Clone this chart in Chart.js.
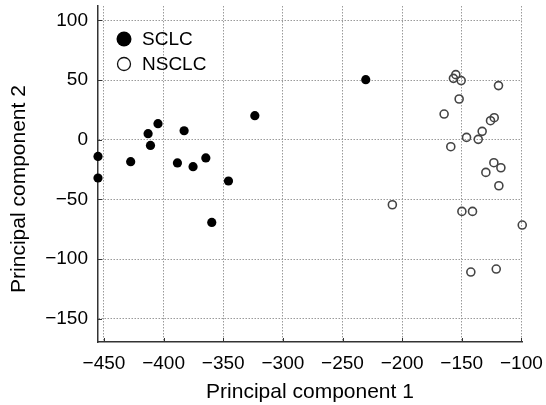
<!DOCTYPE html>
<html>
<head>
<meta charset="utf-8">
<script src="https://cdn.jsdelivr.net/npm/chart.js@4"></script>
<style>
  body { margin: 0; background: #fff; }
</style>
</head>
<body>
<canvas id="Chart" width="546" height="405"></canvas>
<script>
// values
const sclcX = [-455, -455, -427.6, -413, -411, -404.7, -388.4, -382.8, -375.3, -364.6, -345.6, -323.5, -359.6, -230.5];
const sclcY = [-14, -32.1, -18.4, 5, -4.8, 13.4, -19.5, 7.5, -22.6, -15.3, -34.6, 20.1, -69.3, 50.3];
const nsclcX = [-155, -157, -150.5, -119.2, -152.2, -164.8, -125.9, -122.8, -132.9, -146, -136.2, -159.2,
  -123.1, -117.2, -129.8, -118.9, -208.2, -149.9, -141, -99.3, -142.4, -121.1];
const nsclcY = [54.5, 51.4, 49.5, 45.3, 34.1, 21.5, 15.9, 18.4, 7, 1.9, 0.3, -5.9,
  -19.3, -23.5, -27.4, -38.6, -54.5, -60.1, -60.1, -71.5, -110.9, -108.4];
const xTicks = [-450, -400, -350, -300, -250, -200, -150, -100];
const yTicks = [-150, -100, -50, 0, 50, 100];
const seriesNames = ["SCLC", "NSCLC"];
const xTitle = "Principal component 1";
const yTitle = "Principal component 2";

const FONT = '"Liberation Sans", Arial, Helvetica, sans-serif';
const toPoints = (xs, ys) => xs.map((x, i) => ({ x: x, y: ys[i] }));
const fmt = (v) => (v < 0 ? "\u2212" + Math.abs(v) : String(v));

// inward tick marks, legend and axis titles
const extras = {
  id: "extras",
  afterDraw(chart) {
    const ctx = chart.ctx;
    const area = chart.chartArea;
    const xs = chart.scales.x;
    const ys = chart.scales.y;
    ctx.save();
    ctx.strokeStyle = "#333";
    ctx.lineWidth = 1;
    ctx.beginPath();
    xTicks.forEach((v) => {
      const px = Math.round(xs.getPixelForValue(v)) + 0.5;
      ctx.moveTo(px, area.bottom);
      ctx.lineTo(px, area.bottom - 4);
    });
    yTicks.forEach((v) => {
      const py = Math.round(ys.getPixelForValue(v)) + 0.5;
      ctx.moveTo(area.left, py);
      ctx.lineTo(area.left + 4, py);
    });
    ctx.stroke();

    // legend
    const lx = area.left + 26;
    let ly = area.top + 33;
    ctx.font = "19px " + FONT;
    ctx.textBaseline = "middle";
    ctx.textAlign = "left";
    ctx.fillStyle = "#000";
    ctx.beginPath();
    ctx.arc(lx, ly, 7.5, 0, Math.PI * 2);
    ctx.fill();
    ctx.fillText(seriesNames[0], lx + 18, ly + 1);
    ly += 25;
    ctx.beginPath();
    ctx.arc(lx, ly, 6.5, 0, Math.PI * 2);
    ctx.lineWidth = 1.3;
    ctx.strokeStyle = "#111";
    ctx.stroke();
    ctx.fillText(seriesNames[1], lx + 18, ly + 1);

    // axis titles
    ctx.font = "21px " + FONT;
    ctx.textBaseline = "alphabetic";
    ctx.textAlign = "center";
    ctx.fillText(xTitle, (area.left + area.right) / 2, 398);
    ctx.translate(25, 189);
    ctx.rotate(-Math.PI / 2);
    ctx.fillText(yTitle, 0, 0);
    ctx.restore();
  },
};

const chart = new Chart(document.getElementById("Chart"), {
  type: "scatter",
  data: {
    datasets: [
      {
        label: seriesNames[1],
        data: toPoints(nsclcX, nsclcY),
        backgroundColor: "rgba(0,0,0,0)",
        borderColor: "#444",
        borderWidth: 1.6,
        pointRadius: 4,
        clip: false,
      },
      {
        label: seriesNames[0],
        data: toPoints(sclcX, sclcY),
        backgroundColor: "#000",
        borderColor: "#000",
        borderWidth: 0,
        pointRadius: 4.6,
        clip: false,
      },
    ],
  },
  options: {
    responsive: false,
    animation: false,
    layout: { padding: { top: 6, right: 24, left: 0, bottom: 0 } },
    plugins: {
      legend: { display: false },
      tooltip: { enabled: false },
    },
    scales: {
      x: {
        type: "linear",
        min: -455,
        max: -99.5,
        afterBuildTicks: (scale) => {
          scale.ticks = xTicks.map((v) => ({ value: v }));
        },
        afterFit: (scale) => {
          scale.height = 63;
          scale.paddingLeft = 0;
          scale.paddingRight = 0;
        },
        grid: { color: "#9a9a9a", lineWidth: 1, drawTicks: false },
        border: { display: true, color: "#333", width: 1.5, dash: [1.5, 1.5] },
        ticks: {
          color: "#000",
          padding: 10,
          maxRotation: 0,
          font: { family: FONT, size: 19 },
          callback: (v) => fmt(v),
        },
      },
      y: {
        type: "linear",
        min: -169.5,
        max: 112,
        afterBuildTicks: (scale) => {
          scale.ticks = yTicks.map((v) => ({ value: v }));
        },
        afterFit: (scale) => {
          scale.width = 98;
          scale.paddingTop = 0;
          scale.paddingBottom = 0;
        },
        grid: { color: "#9a9a9a", lineWidth: 1, drawTicks: false },
        border: { display: true, color: "#333", width: 1.5, dash: [1.5, 1.5] },
        ticks: {
          color: "#000",
          padding: 10,
          font: { family: FONT, size: 19 },
          callback: (v) => fmt(v),
        },
      },
    },
  },
  plugins: [extras],
});
</script>
</body>
</html>
